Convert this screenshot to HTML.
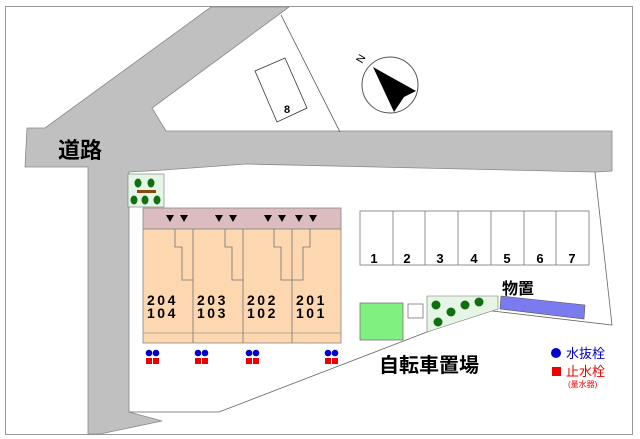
<!DOCTYPE html><html><head><style>body{margin:0;background:#fff}svg{display:block}text{font-family:"Liberation Sans","Noto Sans CJK JP",sans-serif}</style></head><body>
<svg width="640" height="439" viewBox="0 0 640 439" xmlns="http://www.w3.org/2000/svg">
<rect x="5.5" y="6.5" width="627" height="428" fill="#fff" stroke="#999"/>
<polygon points="211,7 289,7 152,108 166,131 612,131 612,171 595,172 246,164 164,170 129,172 129,412 162,421 100,434 88,434 88,167 25,167 27,128 45,128" fill="#c0c0c0" stroke="#888" stroke-width="0.8"/>
<line x1="281" y1="15" x2="340" y2="132" stroke="#555" stroke-width="0.8"/>
<polygon points="255,71 285,58 307,108 277,122" fill="#fff" stroke="#333" stroke-width="0.8"/>
<text x="287" y="113" font-size="11" font-weight="bold" text-anchor="middle">8</text>
<ellipse cx="390" cy="85" rx="28" ry="28" fill="#fff" stroke="#555"/>
<polygon points="373,67 416,91 404,97 394,112" fill="#000"/>
<text x="362" y="64" font-size="11" transform="rotate(-60 362 64)">N</text>
<text x="80" y="158" font-size="22" font-weight="bold" text-anchor="middle">道路</text>
<polyline points="595,172 612,325 484,310 219,412 129,412" fill="none" stroke="#666" stroke-width="0.8"/>
<rect x="128" y="174" width="36" height="33" fill="#e6f6e6" stroke="#777" stroke-width="0.6"/>
<g fill="#107010"><ellipse cx="138" cy="183" rx="3.5" ry="4.5"/><ellipse cx="151" cy="183" rx="3.5" ry="4.5"/><ellipse cx="134" cy="200" rx="3.5" ry="4.5"/><ellipse cx="145" cy="200" rx="3.5" ry="4.5"/><ellipse cx="157" cy="200" rx="3.5" ry="4.5"/></g>
<rect x="137" y="190" width="19" height="3" fill="#8b4513"/>
<rect x="143" y="208" width="198" height="21" fill="#dcbcbc" stroke="#888" stroke-width="0.8"/>
<rect x="143" y="229" width="198" height="114" fill="#fcd7b0" stroke="#888" stroke-width="0.8"/>
<line x1="143" y1="333" x2="341" y2="333" stroke="#999" stroke-width="0.8"/>
<g stroke="#777" stroke-width="0.8" fill="none">
<line x1="193" y1="229" x2="193" y2="343"/><line x1="243" y1="229" x2="243" y2="343"/><line x1="292" y1="229" x2="292" y2="343"/>
<polyline points="175,229 175,247 182,247 182,280 193,280"/>
<polyline points="225,229 225,247 232,247 232,280 243,280"/>
<polyline points="274,229 274,247 281,247 281,280 292,280"/>
<polyline points="310,229 310,247 303,247 303,280 292,280"/>
</g>
<g fill="#000">
<polygon points="166,215 174,215 170,222"/><polygon points="180,215 188,215 184,222"/>
<polygon points="215,215 223,215 219,222"/><polygon points="229,215 237,215 233,222"/>
<polygon points="264,215 272,215 268,222"/><polygon points="278,215 286,215 282,222"/>
<polygon points="295,215 303,215 299,222"/><polygon points="309,215 317,215 313,222"/>
</g>
<g font-size="14" font-weight="bold" letter-spacing="2.5">
<text x="147" y="305">204</text><text x="147" y="318">104</text>
<text x="197" y="305">203</text><text x="197" y="318">103</text>
<text x="247" y="305">202</text><text x="247" y="318">102</text>
<text x="296" y="305">201</text><text x="296" y="318">101</text>
</g>
<g>
<g transform="translate(145,0)"><circle cx="4" cy="353" r="3.3" fill="#00c"/><circle cx="11" cy="353" r="3.3" fill="#00c"/><rect x="1" y="358" width="6" height="6" fill="#e00"/><rect x="8" y="358" width="6" height="6" fill="#e00"/></g>
<g transform="translate(194,0)"><circle cx="4" cy="353" r="3.3" fill="#00c"/><circle cx="11" cy="353" r="3.3" fill="#00c"/><rect x="1" y="358" width="6" height="6" fill="#e00"/><rect x="8" y="358" width="6" height="6" fill="#e00"/></g>
<g transform="translate(245,0)"><circle cx="4" cy="353" r="3.3" fill="#00c"/><circle cx="11" cy="353" r="3.3" fill="#00c"/><rect x="1" y="358" width="6" height="6" fill="#e00"/><rect x="8" y="358" width="6" height="6" fill="#e00"/></g>
<g transform="translate(324,0)"><circle cx="4" cy="353" r="3.3" fill="#00c"/><circle cx="11" cy="353" r="3.3" fill="#00c"/><rect x="1" y="358" width="6" height="6" fill="#e00"/><rect x="8" y="358" width="6" height="6" fill="#e00"/></g>
</g>
<rect x="360" y="211" width="229" height="54" fill="#fff" stroke="#777" stroke-width="0.8"/>
<g stroke="#777" stroke-width="0.8">
<line x1="393" y1="211" x2="393" y2="265"/><line x1="425" y1="211" x2="425" y2="265"/><line x1="458" y1="211" x2="458" y2="265"/><line x1="491" y1="211" x2="491" y2="265"/><line x1="524" y1="211" x2="524" y2="265"/><line x1="556" y1="211" x2="556" y2="265"/>
</g>
<g font-size="13" font-weight="bold" text-anchor="middle">
<text x="374" y="263">1</text><text x="407" y="263">2</text><text x="440" y="263">3</text><text x="474" y="263">4</text><text x="507" y="263">5</text><text x="540" y="263">6</text><text x="572" y="263">7</text>
</g>
<rect x="360" y="303" width="43" height="37" fill="#80f080" stroke="#777" stroke-width="0.8"/>
<rect x="408" y="304" width="15" height="14" fill="#fff" stroke="#777" stroke-width="0.8"/>
<polygon points="427,296 498,296 498,309 427,332" fill="#e6f6e6" stroke="#777" stroke-width="0.6"/>
<g fill="#107010"><circle cx="436" cy="305" r="4.5"/><circle cx="451" cy="312" r="4.5"/><circle cx="465" cy="305" r="4.5"/><circle cx="479" cy="302" r="4.5"/><circle cx="438" cy="322" r="4.5"/></g>
<polygon points="501,296 585,305 584,319 500,309" fill="#7b7bf0" stroke="#555" stroke-width="0.6"/>
<text x="518" y="294" font-size="16" font-weight="bold" text-anchor="middle">物置</text>
<text x="429" y="372" font-size="20" font-weight="bold" text-anchor="middle">自転車置場</text>
<circle cx="556" cy="353" r="5" fill="#00c"/>
<text x="566" y="358" font-size="13" fill="#0000cc">水抜栓</text>
<rect x="552" y="367" width="9" height="9" fill="#e00"/>
<text x="566" y="376" font-size="13" fill="#e00">止水栓</text>
<text x="568" y="387" font-size="8" fill="#e00">(量水器)</text>
</svg>
</body></html>
